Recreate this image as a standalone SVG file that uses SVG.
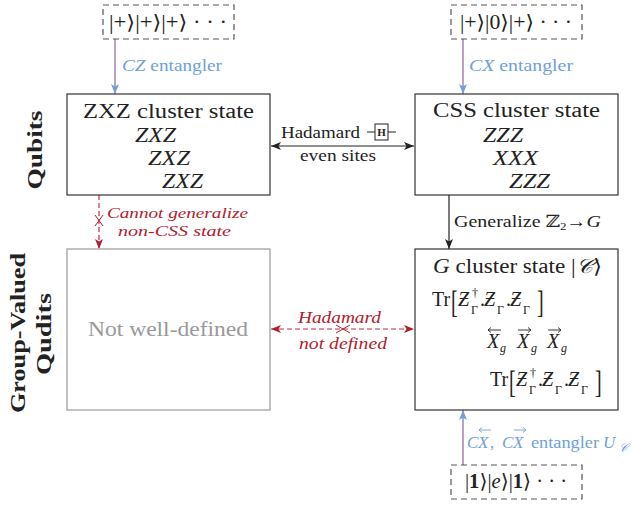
<svg xmlns="http://www.w3.org/2000/svg" width="636" height="506" viewBox="0 0 636 506">
<defs>
<style>
text { font-family: "Liberation Serif", "DejaVu Serif", serif; fill: #222; }
.t { font-size: 20px; }
.m { font-size: 17px; }
.r { font-size: 15.5px; }
.s { font-size: 12px; }
.it { font-style: italic; }
.blue { fill: #6f9fd8; }
.red { fill: #b0202c; }
.gray { fill: #999; }
.box { fill: #fff; stroke: #333; stroke-width: 1.2; }
.gbox { fill: #fff; stroke: #999; stroke-width: 1.2; }
.dbox { fill: #fff; stroke: #555; stroke-width: 1.2; stroke-dasharray: 6 4; }
.lbl { font-weight: bold; font-size: 22px; }
.blk { stroke: #222; stroke-width: 1.2; fill: none; }
.ent { stroke: #a98bb8; stroke-width: 1.6; fill: none; }
.rd { stroke: #c03040; stroke-width: 1.2; stroke-dasharray: 5 3; fill: none; }
.rx { stroke: #b0202c; stroke-width: 1; fill: none; }
.acc { stroke: #222; stroke-width: 0.9; fill: none; }
.accb { stroke: #6f9fd8; stroke-width: 0.9; fill: none; }
</style>
<marker id="ab" viewBox="0 0 10 8" refX="10" refY="4" markerWidth="10" markerHeight="8" markerUnits="userSpaceOnUse" orient="auto-start-reverse"><path d="M0,0 L10,4 L0,8 L2.5,4 z" fill="#222"/></marker>
<marker id="abl" viewBox="0 0 10 8" refX="10" refY="4" markerWidth="10" markerHeight="8" markerUnits="userSpaceOnUse" orient="auto-start-reverse"><path d="M0,0 L10,4 L0,8 L2.5,4 z" fill="#6f9fd8"/></marker>
<marker id="ar" viewBox="0 0 10 8" refX="10" refY="4" markerWidth="10" markerHeight="8" markerUnits="userSpaceOnUse" orient="auto-start-reverse"><path d="M0,0 L10,4 L0,8 L2.5,4 z" fill="#b0202c"/></marker>
</defs>
<rect width="636" height="506" fill="#fff"/>

<!-- row labels -->
<g id="row-labels">
<text class="lbl" transform="translate(42,150) rotate(-90)" text-anchor="middle" textLength="79" lengthAdjust="spacingAndGlyphs">Qubits</text>
<text class="lbl" transform="translate(25,333) rotate(-90)" text-anchor="middle" textLength="160" lengthAdjust="spacingAndGlyphs">Group-Valued</text>
<text class="lbl" transform="translate(51,334) rotate(-90)" text-anchor="middle" textLength="82" lengthAdjust="spacingAndGlyphs">Qudits</text>
</g>

<!-- connectors -->
<g id="connectors">
<line class="ent" x1="115" y1="39" x2="115" y2="94" marker-end="url(#abl)"/>
<line class="ent" x1="463" y1="39" x2="463" y2="94" marker-end="url(#abl)"/>
<line class="ent" x1="463" y1="465" x2="463" y2="410" marker-end="url(#abl)"/>
<line class="blk" x1="271" y1="146" x2="414" y2="146" marker-start="url(#ab)" marker-end="url(#ab)"/>
<line class="blk" x1="449" y1="195" x2="449" y2="249" marker-end="url(#ab)"/>
<line class="rd" x1="99" y1="195" x2="99" y2="249" marker-end="url(#ar)"/>
<path class="rx" d="M95,215 L103,226 M103,215 L95,226"/>
<line class="rd" x1="271" y1="329" x2="414" y2="329" marker-start="url(#ar)" marker-end="url(#ar)"/>
<path class="rx" d="M336,325 L350,333 M336,333 L350,325"/>
<text class="m it blue" x="122" y="71" textLength="100" lengthAdjust="spacingAndGlyphs">CZ<tspan font-style="normal"> entangler</tspan></text>
<text class="m it blue" x="469" y="71" textLength="104" lengthAdjust="spacingAndGlyphs">CX<tspan font-style="normal"> entangler</tspan></text>
<text class="m" x="281" y="138" textLength="79" lengthAdjust="spacingAndGlyphs">Hadamard</text>
<path class="blk" d="M367,132 H375 M388,132 H396"/>
<rect x="375" y="124" width="13" height="16" fill="#fff" stroke="#222" stroke-width="1"/>
<text x="381.5" y="136" text-anchor="middle" font-size="11" font-weight="bold">H</text>
<text class="m" x="300" y="161" textLength="76" lengthAdjust="spacingAndGlyphs">even sites</text>
<text class="m" x="454" y="227" textLength="147" lengthAdjust="spacingAndGlyphs">Generalize ℤ<tspan font-size="11" dy="3">2</tspan><tspan dy="-3">→</tspan><tspan font-style="italic">G</tspan></text>
<text class="r it red" x="107" y="218" textLength="141" lengthAdjust="spacingAndGlyphs">Cannot generalize</text>
<text class="r it red" x="118" y="236" textLength="113" lengthAdjust="spacingAndGlyphs">non-CSS state</text>
<text class="m it red" x="298" y="323" textLength="83" lengthAdjust="spacingAndGlyphs">Hadamard</text>
<text class="m it red" x="299" y="349" textLength="88" lengthAdjust="spacingAndGlyphs">not defined</text>
<!-- bottom entangler label -->
<text class="m it blue" x="467" y="448">C</text>
<text class="m it blue" x="478" y="448">X</text>
<path class="accb" d="M491,430 H479 M482,427.5 L479,430 L482,432.5"/>
<text class="m blue" x="490" y="448">,</text>
<text class="m it blue" x="502" y="448">C</text>
<text class="m it blue" x="513" y="448">X</text>
<path class="accb" d="M514,430 H526 M523,427.5 L526,430 L523,432.5"/>
<text class="m blue" x="531" y="448" textLength="68" lengthAdjust="spacingAndGlyphs">entangler</text>
<text class="m it blue" x="603" y="448">U</text>
<text class="s it blue" x="619" y="452">𝒞</text>
</g>

<!-- initial product states -->
<g id="init-qubit-zxz">
<rect class="dbox" x="103" y="5" width="131" height="34"/>
<text class="t" x="109" y="29" textLength="118" lengthAdjust="spacingAndGlyphs">|+⟩|+⟩|+⟩ · · ·</text>
</g>
<g id="init-qubit-css">
<rect class="dbox" x="451" y="5" width="131" height="34"/>
<text class="t" x="460" y="29" textLength="112" lengthAdjust="spacingAndGlyphs">|+⟩|0⟩|+⟩ · · ·</text>
</g>
<g id="init-group">
<rect class="dbox" x="451" y="465" width="131" height="34"/>
<text class="t" x="465" y="488" textLength="102" lengthAdjust="spacingAndGlyphs">|<tspan font-weight="bold">1</tspan>⟩|<tspan font-style="italic">e</tspan>⟩|<tspan font-weight="bold">1</tspan>⟩ · · ·</text>
</g>

<!-- ZXZ cluster state -->
<g id="zxz-cluster">
<rect class="box" x="67" y="94" width="203" height="101"/>
<text class="t" x="83" y="118" textLength="171" lengthAdjust="spacingAndGlyphs">ZXZ cluster state</text>
<text class="t it" x="135" y="142" textLength="41" lengthAdjust="spacingAndGlyphs">ZXZ</text>
<text class="t it" x="148" y="165" textLength="42" lengthAdjust="spacingAndGlyphs">ZXZ</text>
<text class="t it" x="162" y="188" textLength="41" lengthAdjust="spacingAndGlyphs">ZXZ</text>
</g>

<!-- CSS cluster state -->
<g id="css-cluster">
<rect class="box" x="415" y="94" width="203" height="101"/>
<text class="t" x="433" y="117" textLength="167" lengthAdjust="spacingAndGlyphs">CSS cluster state</text>
<text class="t it" x="483" y="142" textLength="40" lengthAdjust="spacingAndGlyphs">ZZZ</text>
<text class="t it" x="493" y="165" textLength="45" lengthAdjust="spacingAndGlyphs">XXX</text>
<text class="t it" x="509" y="188" textLength="41" lengthAdjust="spacingAndGlyphs">ZZZ</text>
</g>

<!-- Not well-defined -->
<g id="not-well-defined">
<rect class="gbox" x="67" y="249" width="203" height="161"/>
<text class="t gray" x="88" y="336" textLength="160" lengthAdjust="spacingAndGlyphs">Not well-defined</text>
</g>

<!-- G cluster state -->
<g id="g-cluster">
<rect class="box" x="415" y="249" width="203" height="161"/>
<text class="t" x="433" y="273" textLength="169" lengthAdjust="spacingAndGlyphs"><tspan font-style="italic">G</tspan> cluster state |<tspan font-style="italic">𝒞</tspan>⟩</text>
<!-- row 1 -->
<text class="t" x="432" y="306">Tr</text>
<text class="t" transform="translate(451,313) scale(1,1.55)">[</text>
<text class="t it" x="458" y="306">Ƶ</text>
<text class="s" x="472" y="297">†</text>
<text class="s" x="471" y="314">Γ</text>
<text class="t" x="480" y="306">.</text>
<text class="t it" x="484" y="306">Ƶ</text>
<text class="s" x="497" y="314">Γ</text>
<text class="t" x="506" y="306">.</text>
<text class="t it" x="510" y="306">Ƶ</text>
<text class="s" x="523" y="314">Γ</text>
<text class="t" transform="translate(537,313) scale(1,1.55)">]</text>
<!-- row 2 -->
<text class="t it" x="487" y="348">X</text>
<text class="s it" x="500" y="352">g</text>
<path class="acc" d="M501,330 H488 M491,327.5 L488,330 L491,332.5"/>
<text class="t it" x="517" y="348">X</text>
<text class="s it" x="531" y="352">g</text>
<path class="acc" d="M518,330 H531 M528,327.5 L531,330 L528,332.5"/>
<text class="t it" x="547" y="348">X</text>
<text class="s it" x="561" y="352">g</text>
<path class="acc" d="M548,330 H561 M558,327.5 L561,330 L558,332.5"/>
<!-- row 3 -->
<text class="t" x="490" y="386">Tr</text>
<text class="t" transform="translate(509,393) scale(1,1.55)">[</text>
<text class="t it" x="516" y="386">Ƶ</text>
<text class="s" x="530" y="377">†</text>
<text class="s" x="529" y="394">Γ</text>
<text class="t" x="538" y="386">.</text>
<text class="t it" x="542" y="386">Ƶ</text>
<text class="s" x="555" y="394">Γ</text>
<text class="t" x="564" y="386">.</text>
<text class="t it" x="568" y="386">Ƶ</text>
<text class="s" x="581" y="394">Γ</text>
<text class="t" transform="translate(595,393) scale(1,1.55)">]</text>
</g>
</svg>
